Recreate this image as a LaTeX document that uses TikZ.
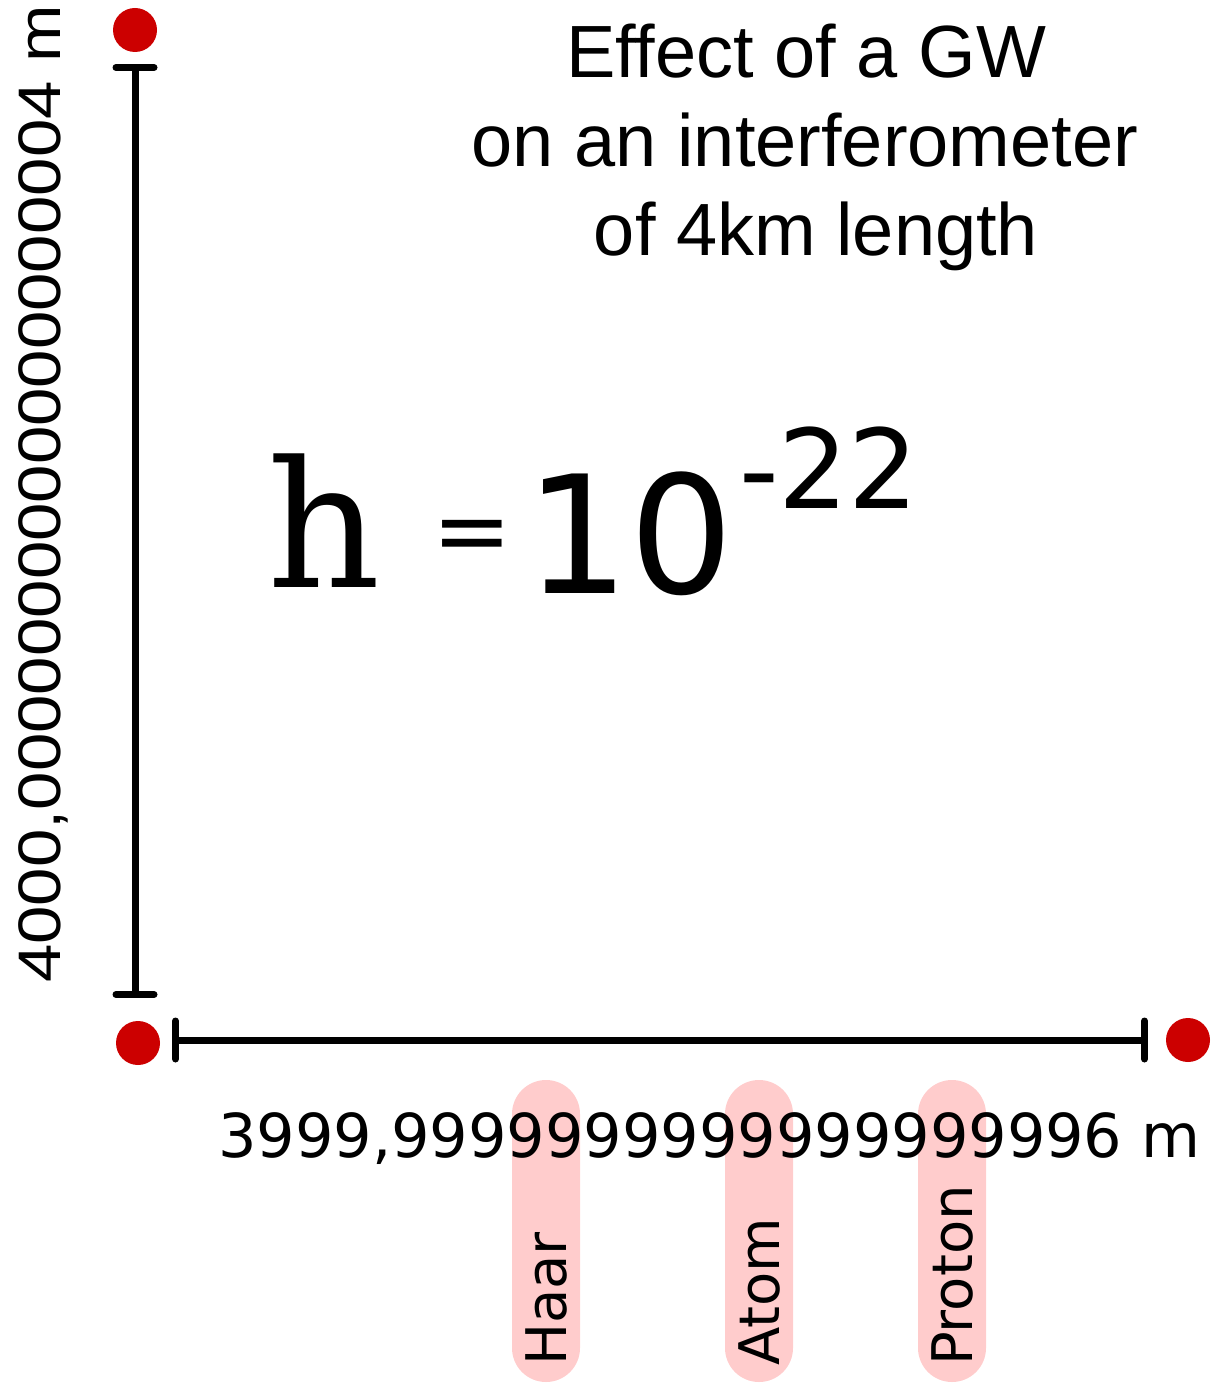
\documentclass[tikz,border=0pt]{standalone}
\usepackage{fontspec}
\usepackage{tikz}
\usetikzlibrary{positioning,arrows.meta}
\newfontfamily\titlefont{Liberation Sans}
\newfontfamily\axisfont[FakeStretch=1.15]{Liberation Sans}
\newfontfamily\labelfont{DejaVu Sans}
\newfontfamily\strainfont{DejaVu Serif}
\definecolor{mirror}{rgb}{0.8, 0, 0}
\definecolor{pinkish}{rgb}{1, 0.8, 0.8}

\begin{document}
\begin{tikzpicture}[x=1pt, y=-1pt,
mass/.style = {circle, fill=mirror, minimum size=44pt, inner sep=0pt},
arm/.style = {draw, line width=7pt,
              {Bar[width=38pt,round]}-{Bar[width=38pt,round]}},
scalebox/.style = {rectangle, rounded corners=34pt, fill=pinkish,
                   minimum width=68pt, minimum height=302pt, inner sep=0pt},
scalelabel/.style = {font=\labelfont\fontsize{56}{56}\selectfont,
                     rotate=90, anchor=base west, inner sep=0pt},
titleline/.style = {font=\titlefont\fontsize{74}{88}\selectfont,
                    anchor=base, inner sep=0pt}
                    ]
\useasboundingbox (0,0) rectangle (1210,1383);
% test masses and arms
\node[mass] (massN) at (135,30) {};
\node[mass] (massC) at (138,1043) {};
\node[mass] (massE) at (1188,1040) {};
\coordinate (armN) at (135,64);
\coordinate (armS) at (135,998);
\coordinate (armW) at (172,1040);
\coordinate (armE) at (1148,1040);
\draw[arm] (armN) -- (armS);
\draw[arm] (armW) -- (armE);
%
\node[titleline] (title1) at (806,78) {Effect of a GW};
\node[titleline] (title2) at (805,167) {on an interferometer};
\node[titleline] (title3) at (816,255) {of 4km length};
%
\node[font=\strainfont\fontsize{176}{176}\selectfont, anchor=base, inner sep=0pt]
    (hsym) at (324,587) {h};
\node[font=\labelfont\fontsize{95}{95}\selectfont, inner sep=0pt]
    (eqsign) at (472,542) {=};
\node[font=\labelfont\fontsize{164}{164}\selectfont, anchor=base, inner sep=0pt]
    (ten) at (630,593) {10};
\node[font=\labelfont\fontsize{110}{110}\selectfont, anchor=base, inner sep=0pt]
    (expo) at (829,508) {-22};
% size scale
\foreach \obj/\xc in {Haar/546, Atom/759, Proton/952}
  {
    \node[scalebox] (box-\obj) at (\xc,1231) {};
    \node[scalelabel] (lbl-\obj) at (\xc+20,1366) {\obj};
  }
\node[font=\labelfont\fontsize{60.5}{60.5}\selectfont, anchor=base west, inner sep=0pt]
    (lenx) at (218,1157) {3999,9999999999999999996 m};
\node[font=\axisfont\fontsize{60}{60}\selectfont, rotate=90, anchor=base west, inner sep=0pt]
    (leny) at (60,983) {4000,0000000000000000004 m};
\end{tikzpicture}
\end{document}
